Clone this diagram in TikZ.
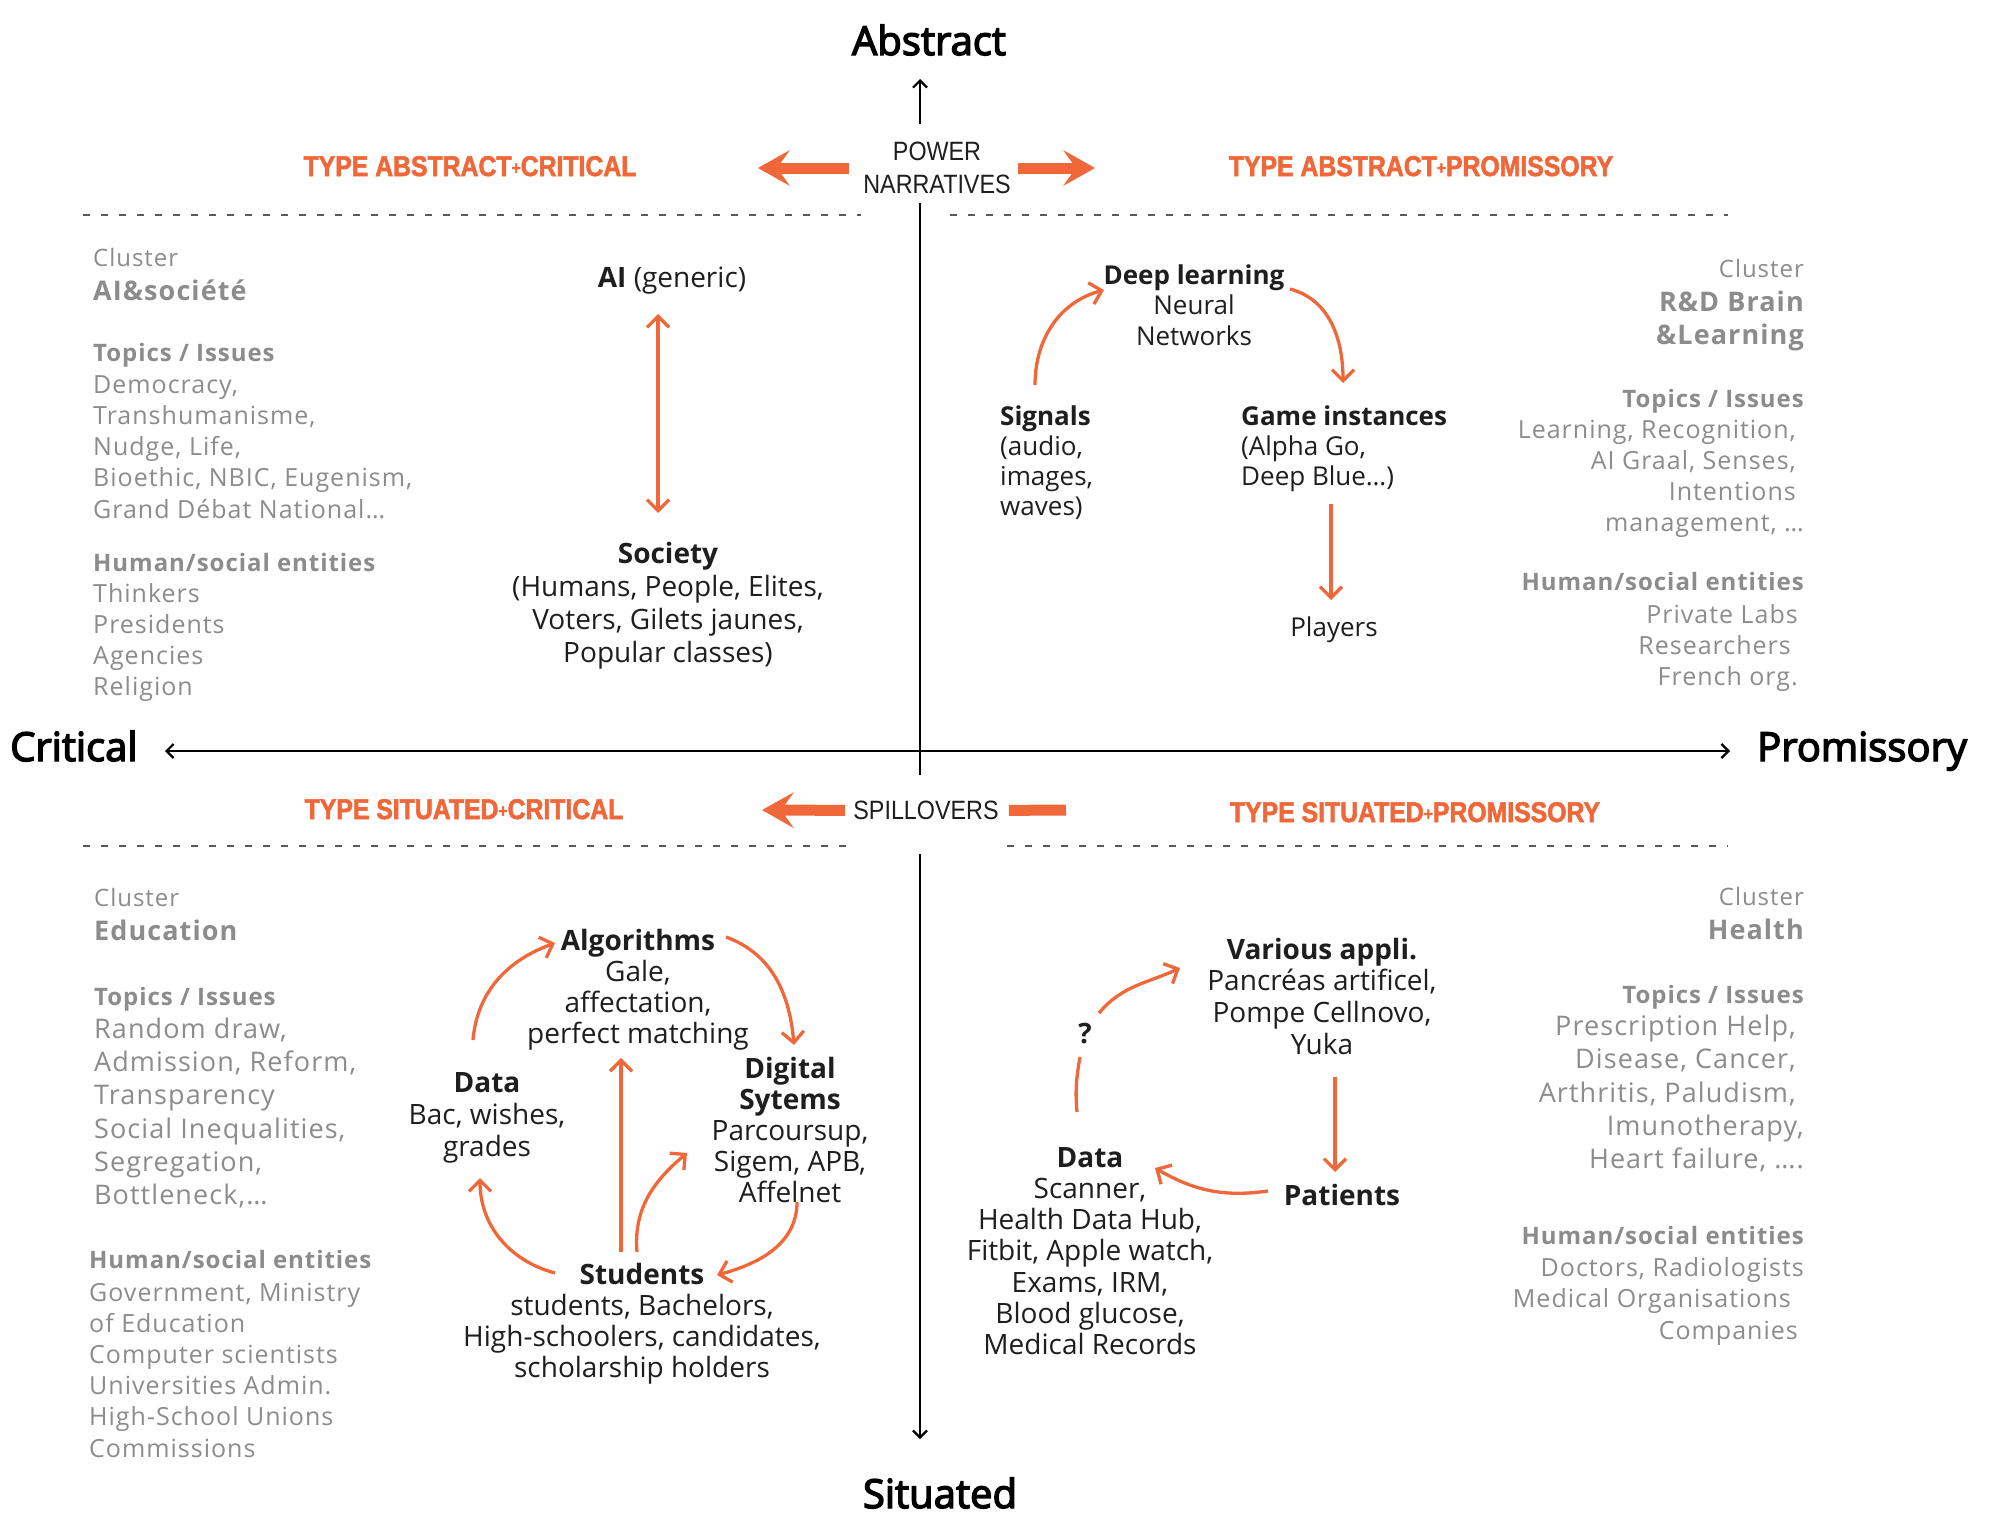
\documentclass[tikz,border=0pt]{standalone}
\usepackage{fontspec}
\setmainfont{Open Sans}
\newfontfamily\grayf[LetterSpace=4]{Open Sans}
\newfontfamily\condf[FakeStretch=0.88]{Liberation Sans}
\newfontfamily\typef[FakeStretch=0.87,FakeBold=2]{Liberation Sans}
\newfontfamily\axisf[FakeBold=3.5]{Open Sans}
\usetikzlibrary{arrows.meta}
\definecolor{orng}{RGB}{240,104,58}
\definecolor{graytxt}{RGB}{140,140,140}
\definecolor{blacktxt}{RGB}{30,30,30}
\definecolor{dashc}{RGB}{90,90,90}
\newcommand\tplus{\raisebox{2pt}{\fontsize{18}{18}\selectfont +}}
\newcommand\txtlines[6]{%
  \foreach \txt [count=\nn] in {#6}{%
    \node[#5] (#1-\nn) at (#2,{-(#3)-(\nn-1)*(#4)}) {\txt};}}
\begin{document}
\begin{tikzpicture}[x=1pt,y=1pt,
  axtip/.tip={Straight Barb[length=7pt,width=14pt]},
  flowtip/.tip={Straight Barb[length=11pt,width=22pt]},
  bigtip/.tip={Stealth[length=32pt,width=36pt,inset=13pt,line width=0pt]},
  axis/.style={draw=black,line width=2.2pt},
  flow/.style={draw=orng,line width=3.3pt,-flowtip},
  flowline/.style={draw=orng,line width=3.3pt},
  big/.style={draw=orng,line width=11pt,-bigtip},
  bigbar/.style={draw=orng,line width=11pt},
  dashln/.style={draw=dashc,line width=1.8pt,dash pattern=on 7pt off 11pt},
  axislab/.style={font=\axisf\fontsize{40}{44}\selectfont,text=black,inner sep=0pt},
  typelab/.style={font=\typef\bfseries\fontsize{28.5}{30}\selectfont,text=orng,inner sep=0pt,anchor=base},
  pnlab/.style={font=\condf\fontsize{26.5}{33}\selectfont,text=blacktxt,inner sep=0pt},
  gtxt/.style={inner sep=0pt,text=graytxt},
  g24/.style={font=\grayf\fontsize{24}{28}\selectfont},
  g24b/.style={font=\grayf\bfseries\fontsize{24}{28}\selectfont},
  g25/.style={font=\grayf\fontsize{25}{30}\selectfont},
  g27/.style={font=\grayf\fontsize{27}{32}\selectfont},
  g27b/.style={font=\grayf\bfseries\fontsize{27}{32}\selectfont},
  blk/.style={inner sep=0pt,text=blacktxt,anchor=base},
  b26/.style={font=\fontsize{26}{30}\selectfont},
  b28/.style={font=\fontsize{28}{33}\selectfont}]
\useasboundingbox (0,0) rectangle (1992,-1520);
\fill[white] (0,0) rectangle (1992,-1520);

% axis labels
\node[axislab,anchor=base] (abstract) at (929,-55) {Abstract};
\node[axislab,anchor=base] (situated) at (940,-1508) {Situated};
\node[axislab,anchor=base west] (critical) at (10,-761) {Critical};
\node[axislab,anchor=base west] (promissory) at (1757,-761) {Promissory};

% axes
\coordinate (vt) at (920,-79);
\coordinate (v1) at (920,-124);
\coordinate (v2) at (920,-203);
\coordinate (v3) at (920,-775);
\coordinate (v4) at (920,-854);
\coordinate (vb) at (920,-1439);
\coordinate (hl) at (165,-751);
\coordinate (hr) at (1730,-751);
\draw[axis,-axtip] (v1) -- (vt);
\draw[axis] (v2) -- (v3);
\draw[axis,-axtip] (v4) -- (vb);
\draw[axis,axtip-axtip] (hl) -- (hr);

% dashed separators
\coordinate (d1a) at (83,-215);  \coordinate (d1b) at (861,-215);
\coordinate (d2a) at (950,-215); \coordinate (d2b) at (1728,-215);
\coordinate (d3a) at (83,-846);  \coordinate (d3b) at (849,-846);
\coordinate (d4a) at (1007,-846);\coordinate (d4b) at (1728,-846);
\draw[dashln] (d1a) -- (d1b);
\draw[dashln] (d2a) -- (d2b);
\draw[dashln] (d3a) -- (d3b);
\draw[dashln] (d4a) -- (d4b);

% type labels
\node[typelab] (tac) at (470,-176) {TYPE ABSTRACT\tplus CRITICAL};
\node[typelab] (tap) at (1421,-176) {TYPE ABSTRACT\tplus PROMISSORY};
\node[typelab] (tsc) at (464,-819) {TYPE SITUATED\tplus CRITICAL};
\node[typelab] (tsp) at (1415,-822) {TYPE SITUATED\tplus PROMISSORY};

% power narratives / spillovers
\node[pnlab,align=center] (pn) at (937,-168) {POWER\\NARRATIVES};
\coordinate (pnl) at (758,-168);
\coordinate (pnr) at (1095,-168);
\draw[big] ([xshift=-14pt]pn.west) -- (pnl);
\draw[big] ([xshift=7pt]pn.east) -- (pnr);
\node[pnlab,anchor=base] (sp) at (926,-819.5) {SPILLOVERS};
\coordinate (spl) at (762,-810);
\coordinate (spr) at (1066,-810);
\draw[big] ([xshift=-8pt]sp.west) -- (spl);
\draw[bigbar] ([xshift=10pt]sp.east) -- (spr);

% ---------- top-left quadrant
\node[gtxt,g24,anchor=base west] (c1) at (93,-266.5) {Cluster};
\node[gtxt,g27b,anchor=base west] (c1t) at (93,-300) {AI\&société};
\node[gtxt,g24b,anchor=base west] (c1h) at (93,-361.5) {Topics / Issues};
\txtlines{c1s}{93}{393}{31.3}{gtxt,g25,anchor=base west}{{Democracy,},{Transhumanisme,},{Nudge, Life,},{Bioethic, NBIC, Eugenism,},{Grand Débat National…}}
\node[gtxt,g24b,anchor=base west] (c1e) at (93,-571.5) {Human/social entities};
\txtlines{c1p}{93}{602}{31.3}{gtxt,g25,anchor=base west}{Thinkers,Presidents,Agencies,Religion}

\node[blk,b28] (ai) at (672,-287) {\textbf{AI} (generic)};
\txtlines{soc}{668}{563}{33.3}{blk,b28}{{\textbf{Society}},{(Humans, People, Elites,},{Voters, Gilets jaunes,},{Popular classes)}}
\draw[flow,flowtip-flowtip] ([shift={(-14,-27)}]ai.base) -- ([shift={(-10,50)}]soc-1.base);

% ---------- top-right quadrant
\node[gtxt,g24,anchor=base east] (c2) at (1804,-277.5) {Cluster};
\txtlines{c2t}{1804}{311}{33}{gtxt,g27b,anchor=base east}{{R\&D Brain},{\&Learning}}
\node[gtxt,g24b,anchor=base east] (c2h) at (1804,-407.5) {Topics / Issues};
\txtlines{c2s}{1804}{438}{31.3}{gtxt,g25,anchor=base east}{{Learning, Recognition,\hspace*{8pt}},{AI Graal, Senses,\hspace*{8pt}},{Intentions\hspace*{8pt}},{management, …}}
\node[gtxt,g24b,anchor=base east] (c2e) at (1804,-590.5) {Human/social entities};
\txtlines{c2p}{1804}{623}{31}{gtxt,g25,anchor=base east}{{Private Labs\hspace*{6pt}},{Researchers\hspace*{13pt}},{French org.\hspace*{6pt}}}

\txtlines{dl}{1194}{284}{30.5}{blk,b26}{{\textbf{Deep learning}},{Neural},{Networks}}
\txtlines{sig}{1000}{425}{30.3}{blk,b26,anchor=base west}{{\textbf{Signals}},{(audio,},{images,},{waves)}}
\txtlines{gi}{1241}{425}{30.3}{blk,b26,anchor=base west}{{\textbf{Game instances}},{(Alpha Go,},{Deep Blue…)}}
\node[blk,b26] (pl) at (1334,-636) {Players};
\draw[flow] ([shift={(35,40)}]sig-1.base west) to[out=90,in=195] ([shift={(-90,-6)}]dl-1.base);
\draw[flow] ([shift={(96,-5)}]dl-1.base) to[out=-15,in=90] ([shift={(102,42)}]gi-1.base west);
\draw[flow] ([shift={(90,-18)}]gi-3.base west) -- ([shift={(-3,36)}]pl.base);

% ---------- bottom-left quadrant
\node[gtxt,g24,anchor=base west] (c3) at (94,-906.5) {Cluster};
\node[gtxt,g27b,anchor=base west] (c3t) at (94,-940) {Education};
\node[gtxt,g24b,anchor=base west] (c3h) at (94,-1005.5) {Topics / Issues};
\txtlines{c3s}{94}{1038.5}{33.2}{gtxt,g27,anchor=base west}{{Random draw,},{Admission, Reform,},{Transparency},{Social Inequalities,},{Segregation,},{Bottleneck,…}}
\node[gtxt,g24b,anchor=base west] (c3e) at (89,-1268.5) {Human/social entities};
\txtlines{c3p}{89}{1301}{31.2}{gtxt,g25,anchor=base west}{{Government, Ministry},{of Education},{Computer scientists},{Universities Admin.},{High-School Unions},{Commissions}}

\txtlines{alg}{638}{950}{31.3}{blk,b28}{{\textbf{Algorithms}},{Gale,},{affectation,},{perfect matching}}
\txtlines{dat}{487}{1092}{32}{blk,b28}{{\textbf{Data}},{Bac, wishes,},{grades}}
\txtlines{dig}{790}{1078}{31}{blk,b28}{{\textbf{Digital}},{\textbf{Sytems}},{Parcoursup,},{Sigem, APB,},{Affelnet}}
\txtlines{stu}{642}{1284}{31.3}{blk,b28}{{\textbf{Students}},{students, Bachelors,},{High-schoolers, candidates,},{scholarship holders}}
\draw[flow] ([shift={(-14,52)}]dat-1.base) to[out=85,in=200] ([shift={(-83,7)}]alg-1.base);
\draw[flow] ([shift={(88,13)}]alg-1.base) to[out=-20,in=95] ([shift={(4,33)}]dig-1.base);
\draw[flow] ([shift={(7,0)}]dig-5.base) to[out=-90,in=15] ([shift={(75,9)}]stu-1.base);
\draw[flow] ([shift={(-87,11)}]stu-1.base) to[out=165,in=-90] ([shift={(-7,-22)}]dat-3.base);
\draw[flow] ([shift={(-21,32)}]stu-1.base) -- ([shift={(-17,-14)}]alg-4.base);
\draw[flow] ([shift={(-5,32)}]stu-1.base) to[out=95,in=220] ([shift={(-103,18)}]dig-4.base);

% ---------- bottom-right quadrant
\node[gtxt,g24,anchor=base east] (c4) at (1804,-905.5) {Cluster};
\node[gtxt,g27b,anchor=base east] (c4t) at (1804,-939) {Health};
\node[gtxt,g24b,anchor=base east] (c4h) at (1804,-1003.5) {Topics / Issues};
\txtlines{c4s}{1804}{1035.5}{33.3}{gtxt,g27,anchor=base east}{{Prescription Help,\hspace*{8pt}},{Disease, Cancer,\hspace*{8pt}},{Arthritis, Paludism,\hspace*{8pt}},{Imunotherapy,},{Heart failure, ….}}
\node[gtxt,g24b,anchor=base east] (c4e) at (1804,-1244.5) {Human/social entities};
\txtlines{c4p}{1804}{1276}{31.5}{gtxt,g25,anchor=base east}{{Doctors, Radiologists},{Medical Organisations\hspace*{13pt}},{Companies\hspace*{6pt}}}

\txtlines{va}{1322}{959}{31.7}{blk,b28}{{\textbf{Various appli.}},{Pancréas artificel,},{Pompe Cellnovo,},{Yuka}}
\node[blk,b28] (q) at (1085,-1043) {\textbf{?}};
\txtlines{bd}{1090}{1167}{31.3}{blk,b28}{{\textbf{Data}},{Scanner,},{Health Data Hub,},{Fitbit, Apple watch,},{Exams, IRM,},{Blood glucose,},{Medical Records}}
\node[blk,b28] (pat) at (1342,-1205) {\textbf{Patients}};
\draw[flowline] ([shift={(-13,55)}]bd-1.base) to[out=95,in=-100] ([shift={(-5,-14)}]q.base);
\draw[flow] ([shift={(14,30)}]q.base) to[out=50,in=205] ([shift={(-142,-9)}]va-1.base);
\draw[flow] ([shift={(13,-23)}]va-4.base) -- ([shift={(-7,33)}]pat.base);
\draw[flow] ([shift={(-74,14)}]pat.base) to[out=188,in=-30] ([shift={(65,-1)}]bd-1.base);
\end{tikzpicture}
\end{document}
